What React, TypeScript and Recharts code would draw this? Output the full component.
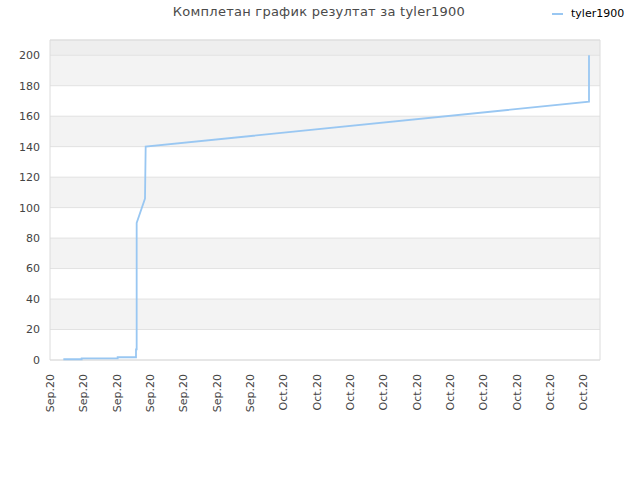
import React from 'react';
import { LineChart, Line, XAxis, YAxis, CartesianGrid, ReferenceArea } from 'recharts';

// x positions are in "tick units" (one unit per date label)
const pointX = [0.4, 0.95, 0.95, 2.03, 2.03, 2.58, 2.58, 2.6, 2.6, 2.85, 2.87, 16.17, 16.17];
const pointY = [0.5, 0.5, 1.1, 1.1, 1.8, 1.8, 7, 7, 90, 106, 140, 169.5, 200];
const tickLabels = [
  'Sep.20', 'Sep.20', 'Sep.20', 'Sep.20', 'Sep.20', 'Sep.20', 'Sep.20',
  'Oct.20', 'Oct.20', 'Oct.20', 'Oct.20', 'Oct.20', 'Oct.20', 'Oct.20', 'Oct.20', 'Oct.20', 'Oct.20',
];
const yTicks = [0, 20, 40, 60, 80, 100, 120, 140, 160, 180, 200];

const lineData = pointX.map((x, i) => ({ x, tyler1900: pointY[i] }));
const xTicks = tickLabels.map((_, i) => i);

const FONT = '"DejaVu Sans", sans-serif';
const LINE_COLOR = '#99c7f2';

const XTick = (props: any) => {
  const { x, y, payload } = props;
  return (
    <text
      x={x}
      y={y + 6}
      transform={`rotate(-90, ${x}, ${y + 6})`}
      textAnchor="end"
      dy="0.35em"
      fontSize={11}
      fontFamily={FONT}
      fill="#444"
    >
      {tickLabels[payload.value]}
    </text>
  );
};

const App: React.FC = () => (
  <div style={{ position: 'absolute', left: 0, top: 0, width: 640, height: 480, background: '#fff' }}>
    <div
      style={{
        position: 'absolute', left: 0, width: 638, top: 4, textAlign: 'center',
        fontFamily: FONT, fontSize: 13, color: '#4a4a4a', letterSpacing: 0.25,
      }}
    >
      Комплетан график резултат за tyler1900
    </div>
    <div style={{ position: 'absolute', left: 552, top: 7, fontFamily: FONT, fontSize: 11, color: '#000', display: 'flex', alignItems: 'center' }}>
      <span style={{ display: 'inline-block', width: 11, height: 2, background: LINE_COLOR, marginRight: 8 }} />
      tyler1900
    </div>
    <LineChart width={640} height={480} data={lineData} margin={{ top: 40, right: 40, bottom: 0, left: 0 }}>
      <CartesianGrid
        vertical={false}
        stroke="#e2e2e2"
        horizontalFill={['#eeeeee', '#f3f3f3', '#ffffff', '#f3f3f3', '#ffffff', '#f3f3f3', '#ffffff', '#f3f3f3', '#ffffff', '#f3f3f3', '#ffffff', '#f3f3f3']}
        fillOpacity={1}
      />
      <ReferenceArea x1={0} x2={16.5} y1={0} y2={210} fill="none" stroke="#dcdcdc" ifOverflow="visible" />
      <XAxis
        dataKey="x"
        type="number"
        domain={[0, 16.5]}
        ticks={xTicks}
        interval={0}
        height={120}
        axisLine={false}
        tickLine={false}
        tick={<XTick />}
      />
      <YAxis
        type="number"
        domain={[0, 210]}
        ticks={yTicks}
        width={50}
        axisLine={false}
        tickLine={false}
        tickMargin={4}
        tick={{ fontSize: 11, fontFamily: FONT, fill: '#444' }}
      />
      <Line
        type="linear"
        dataKey="tyler1900"
        stroke={LINE_COLOR}
        strokeWidth={1.8}
        dot={false}
        isAnimationActive={false}
      />
    </LineChart>
  </div>
);

export default App;
